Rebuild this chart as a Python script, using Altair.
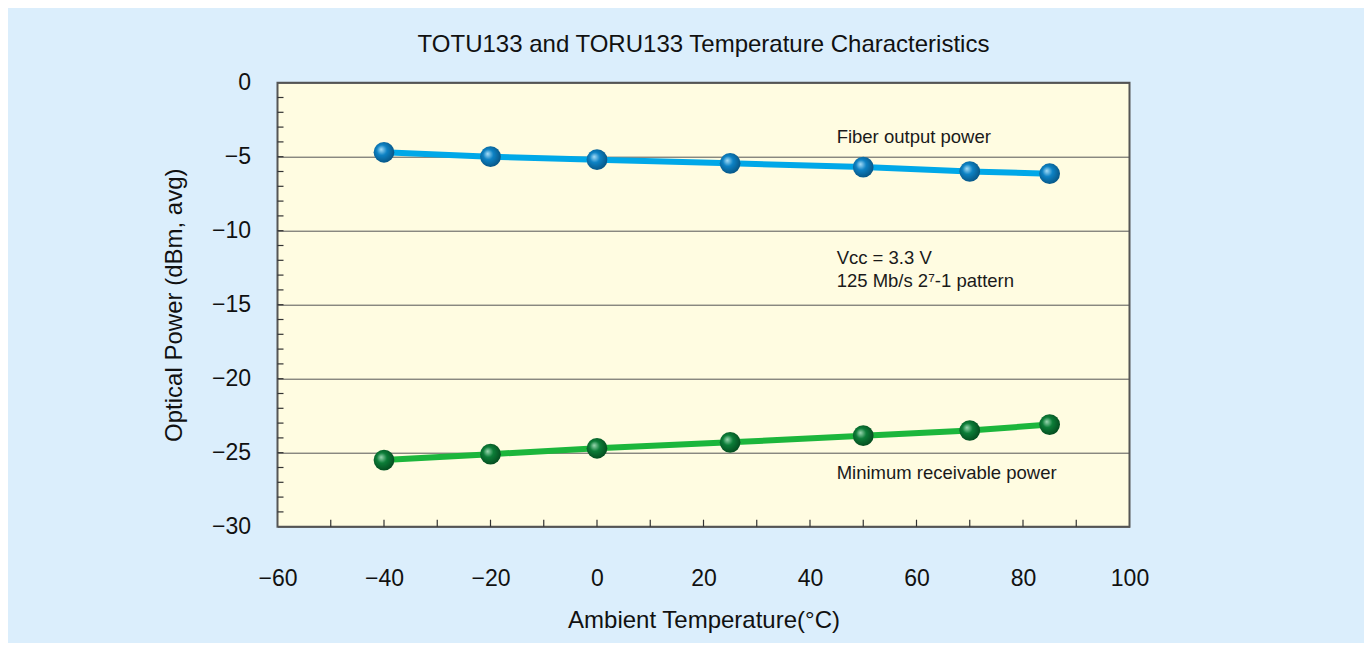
import altair as alt
import pandas as pd

# ---- data ----
temps = [-40, -20, 0, 25, 50, 70, 85]
fiber_output = [-4.7, -5.0, -5.2, -5.45, -5.7, -6.0, -6.15]
min_receivable = [-25.5, -25.1, -24.7, -24.3, -23.85, -23.5, -23.1]

x_minor_ticks = [-50, -40, -30, -20, -10, 0, 10, 20, 30, 40, 50, 60, 70, 80, 90]
y_minor_ticks = list(range(-29, 0))
x_label_values = [-60, -40, -20, 0, 20, 40, 60, 80, 100]
y_label_values = [-30, -25, -20, -15, -10, -5, 0]

notes_text = ["Fiber output power", "Vcc = 3.3 V", "125 Mb/s 2\u2077-1 pattern", "Minimum receivable power"]
notes_x = [45, 45, 45, 45]
notes_y = [-4.07, -12.25, -13.78, -26.78]

FONT = "Liberation Sans"

df_fiber = pd.DataFrame({"t": temps, "p": fiber_output})
df_min = pd.DataFrame({"t": temps, "p": min_receivable})
df_notes = pd.DataFrame({"t": notes_x, "p": notes_y, "label": notes_text})
df_xt = pd.DataFrame({"t": x_minor_ticks})
df_yt = pd.DataFrame({"p": y_minor_ticks})

xscale = alt.Scale(domain=[-60, 100], nice=False, zero=False)
yscale = alt.Scale(domain=[-30, 0], nice=False, zero=False)

xenc = alt.X("t:Q", scale=xscale,
             axis=alt.Axis(values=x_label_values, title="Ambient Temperature(\u00b0C)",
                           ticks=False, domain=False, grid=False, labelFlush=False,
                           labelPadding=41, titlePadding=18))
yenc = alt.Y("p:Q", scale=yscale,
             axis=alt.Axis(values=y_label_values, title="Optical Power (dBm, avg)",
                           ticks=False, domain=False, grid=True, labelFlush=False,
                           gridColor="#555555", gridWidth=1, gridOpacity=1,
                           labelPadding=27, titlePadding=25))

def sphere(edge, mid, hi):
    return alt.Gradient(
        gradient="radial",
        stops=[alt.GradientStop(color=hi, offset=0),
               alt.GradientStop(color=mid, offset=0.4),
               alt.GradientStop(color=edge, offset=1)],
        x1=0.36, y1=0.36, r1=0.0, x2=0.45, y2=0.45, r2=0.62,
    )

grid_layer = alt.Chart(df_fiber).mark_point(opacity=0).encode(x=xenc, y=yenc)

fiber_line = alt.Chart(df_fiber).mark_line(color="#00a8e8", strokeWidth=6).encode(
    x=alt.X("t:Q", scale=xscale), y=alt.Y("p:Q", scale=yscale))
fiber_pts = alt.Chart(df_fiber).mark_point(
    filled=True, size=430, opacity=1, shape="circle",
    fill=sphere("#064f7c", "#0d82c4", "#a8def8")).encode(
    x=alt.X("t:Q", scale=xscale), y=alt.Y("p:Q", scale=yscale))

min_line = alt.Chart(df_min).mark_line(color="#1cb63c", strokeWidth=6).encode(
    x=alt.X("t:Q", scale=xscale), y=alt.Y("p:Q", scale=yscale))
min_pts = alt.Chart(df_min).mark_point(
    filled=True, size=430, opacity=1, shape="circle",
    fill=sphere("#03451b", "#0c7d38", "#9cd8b2")).encode(
    x=alt.X("t:Q", scale=xscale), y=alt.Y("p:Q", scale=yscale))

xticks = alt.Chart(df_xt).mark_rule(color="#333333", strokeWidth=1.2).encode(
    x=alt.X("t:Q", scale=xscale), y=alt.value(444), y2=alt.value(437))
yticks = alt.Chart(df_yt).mark_rule(color="#333333", strokeWidth=1.2).encode(
    y=alt.Y("p:Q", scale=yscale), x=alt.value(0), x2=alt.value(6))

notes = alt.Chart(df_notes).mark_text(
    align="left", baseline="alphabetic", font=FONT, fontSize=18.5, color="#1a1a1a").encode(
    x=alt.X("t:Q", scale=xscale), y=alt.Y("p:Q", scale=yscale), text="label:N")

chart = alt.layer(
    grid_layer, xticks, yticks, fiber_line, min_line, fiber_pts, min_pts, notes
).properties(
    width=852, height=444,
    title=alt.TitleParams("TOTU133 and TORU133 Temperature Characteristics",
                          font=FONT, fontSize=24, fontWeight="normal", color="#111111",
                          anchor="middle", offset=15),
    background="#dbeefc",
    padding={"left": 269.5, "top": 74.7, "right": 234.5, "bottom": 116.3},
    autosize=alt.AutoSizeParams(type="none"),
).configure_view(
    fill="#fffce1", stroke="#555555", strokeWidth=2
).configure_axis(
    labelFont=FONT, labelFontSize=23, labelColor="#111111",
    titleFont=FONT, titleFontSize=24, titleColor="#111111", titleFontWeight="normal",
)

chart.save("out.html", embed_options={"renderer": "svg", "actions": False})
